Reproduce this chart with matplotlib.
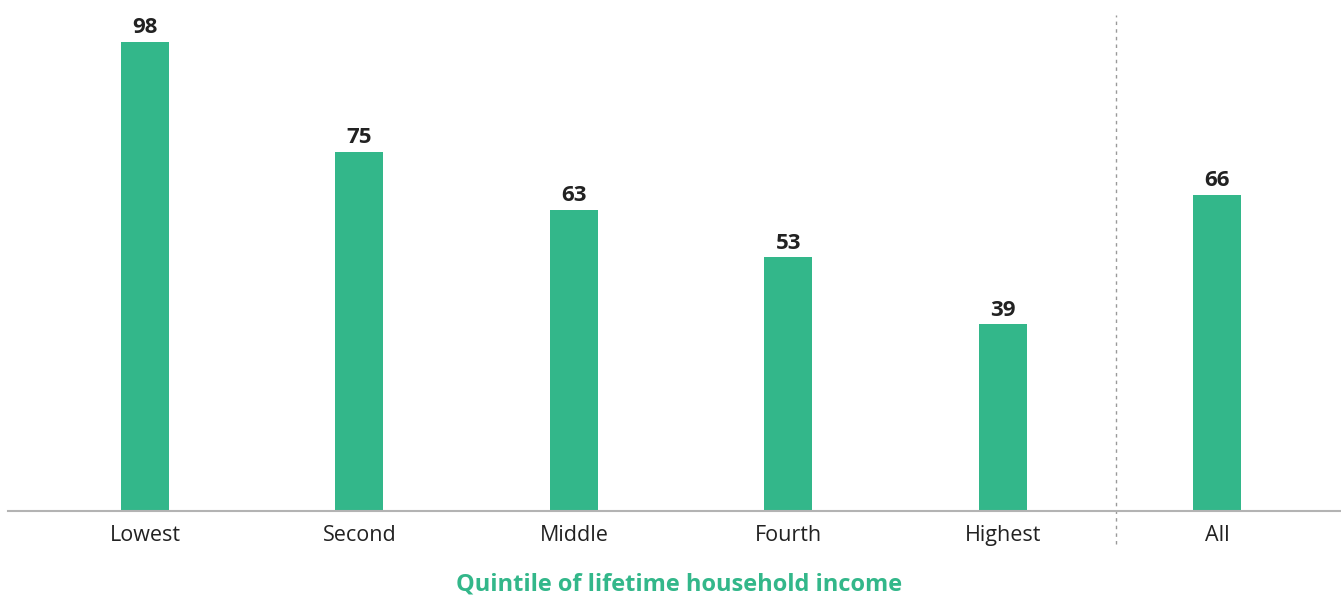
import matplotlib
matplotlib.use("Agg")
import matplotlib.pyplot as plt

plt.rcParams['font.family'] = ['Open Sans', 'DejaVu Sans']

# Data
categories = ['Lowest', 'Second', 'Middle', 'Fourth', 'Highest', 'All']
values = [98, 75, 63, 53, 39, 66]

bar_color = '#33B78A'
text_color = '#222222'

fig = plt.figure(figsize=(13.41, 5.95), dpi=100)
# axes spans from baseline (y=511px) to top, x from 8px to right edge
ax = fig.add_axes([8 / 1341, 1 - 511 / 595, 1 - 8 / 1341, 511 / 595])

x = list(range(len(categories)))
bars = ax.bar(x, values, width=0.224, color=bar_color, zorder=2)

for xi, v in zip(x, values):
    ax.text(xi, v + 0.8, str(v), ha='center', va='bottom', fontsize=16,
            fontweight='bold', color=text_color)

ax.set_xlim(-0.639, 5.578)
ax.set_ylim(0, 106.8)

# Separator between quintiles and "All"
ax.plot([4.53, 4.53], [-7.0, 103.6], color='#999999', linestyle=(0, (2.5, 3)),
        linewidth=1, clip_on=False, zorder=1)

ax.set_xticks(x)
ax.set_xticklabels(categories, fontsize=15.5, color=text_color)
ax.tick_params(axis='x', length=0, pad=10)
ax.set_yticks([])

for side in ['top', 'right', 'left']:
    ax.spines[side].set_visible(False)
ax.spines['bottom'].set_color('#b3b3b3')
ax.spines['bottom'].set_linewidth(1.5)

fig.text(679 / 1341, 1 - 585 / 595, 'Quintile of lifetime household income',
         ha='center', va='center', fontsize=17, fontweight='bold', color=bar_color)

fig.savefig('out.png', dpi=100)
